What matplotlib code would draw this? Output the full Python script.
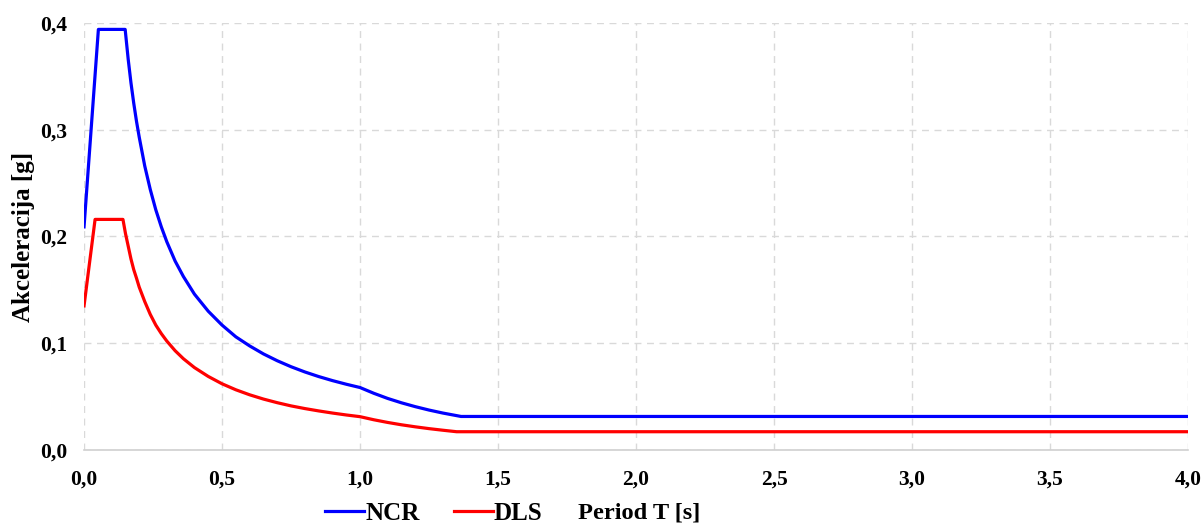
import matplotlib
matplotlib.use("Agg")
import matplotlib.pyplot as plt
import matplotlib.ticker as ticker

# values
t_ncr = [0.0, 0.052, 0.149, 0.16, 0.17, 0.18, 0.19, 0.2, 0.22, 0.24, 0.26, 0.28,
         0.3, 0.33, 0.36, 0.4, 0.45, 0.5, 0.55, 0.6, 0.65, 0.7, 0.75, 0.8, 0.85,
         0.9, 0.95, 1.0, 1.05, 1.1, 1.15, 1.2, 1.25, 1.3, 1.366, 4.0]
a_ncr = [0.209, 0.394, 0.394, 0.366, 0.344, 0.325, 0.308, 0.293, 0.266, 0.244,
         0.225, 0.209, 0.195, 0.177, 0.1625, 0.146, 0.130, 0.117, 0.106, 0.0975,
         0.090, 0.0836, 0.078, 0.0731, 0.0688, 0.065, 0.0616, 0.0585, 0.0531,
         0.0483, 0.0442, 0.0406, 0.0374, 0.0346, 0.0314, 0.0314]

t_dls = [0.0, 0.04, 0.141, 0.15, 0.16, 0.17, 0.18, 0.19, 0.2, 0.22, 0.24, 0.26,
         0.28, 0.3, 0.33, 0.36, 0.4, 0.45, 0.5, 0.55, 0.6, 0.65, 0.7, 0.75, 0.8,
         0.85, 0.9, 0.95, 1.0, 1.05, 1.1, 1.15, 1.2, 1.25, 1.3, 1.35, 4.0]
a_dls = [0.135, 0.216, 0.216, 0.203, 0.191, 0.179, 0.169, 0.161, 0.1525, 0.139,
         0.127, 0.117, 0.109, 0.102, 0.093, 0.0855, 0.0772, 0.0689, 0.062,
         0.0564, 0.0517, 0.0477, 0.0443, 0.0413, 0.0388, 0.0366, 0.0346, 0.0328,
         0.0312, 0.0283, 0.0258, 0.0236, 0.0217, 0.020, 0.0185, 0.0171, 0.0171]

x_ticks = [0.0, 0.5, 1.0, 1.5, 2.0, 2.5, 3.0, 3.5, 4.0]
y_ticks = [0.0, 0.1, 0.2, 0.3, 0.4]

plt.rcParams['font.family'] = ['Liberation Serif', 'DejaVu Serif']
plt.rcParams['font.weight'] = 'bold'

fig = plt.figure(figsize=(12.04, 5.25), dpi=100)
ax = fig.add_axes([0.0698, 0.1429, 0.9169, 0.8133])

ax.plot(t_ncr, a_ncr, color='#0000ff', linewidth=2.3, label='NCR')
ax.plot(t_dls, a_dls, color='#ff0000', linewidth=2.3, label='DLS')

ax.set_xlim(0, 4.0)
ax.set_ylim(0, 0.4)
ax.set_xticks(x_ticks)
ax.set_yticks(y_ticks)
comma = ticker.FuncFormatter(lambda v, p: f"{v:.1f}".replace('.', ','))
ax.xaxis.set_major_formatter(comma)
ax.yaxis.set_major_formatter(comma)
ax.tick_params(length=0, labelsize=15.5)
ax.tick_params(axis='x', pad=14)
ax.tick_params(axis='y', pad=12)
for lab in ax.get_xticklabels() + ax.get_yticklabels():
    lab.set_fontweight('bold')

ax.grid(True, linestyle=(0, (5, 4)), color='#d9d9d9', linewidth=1)
ax.set_axisbelow(True)
for s in ['top', 'right', 'left']:
    ax.spines[s].set_visible(False)
ax.spines['bottom'].set_color('#d0d0d0')
ax.spines['bottom'].set_linewidth(1.2)

ax.set_ylabel("Akceleracija [g]", fontsize=18, fontweight='bold')
ax.yaxis.set_label_coords(-0.0445, 0.5)

fig.legend(loc='center', bbox_to_anchor=(0.3605, 0.022), ncol=2, frameon=False,
           prop={'size': 18, 'weight': 'bold'}, handlelength=1.55,
           handletextpad=0.05, columnspacing=1.36)
fig.text(0.5307, 0.022, "Period T [s]", fontsize=17.6, fontweight='bold',
         ha='center', va='center')

fig.savefig("out.png", dpi=100)
